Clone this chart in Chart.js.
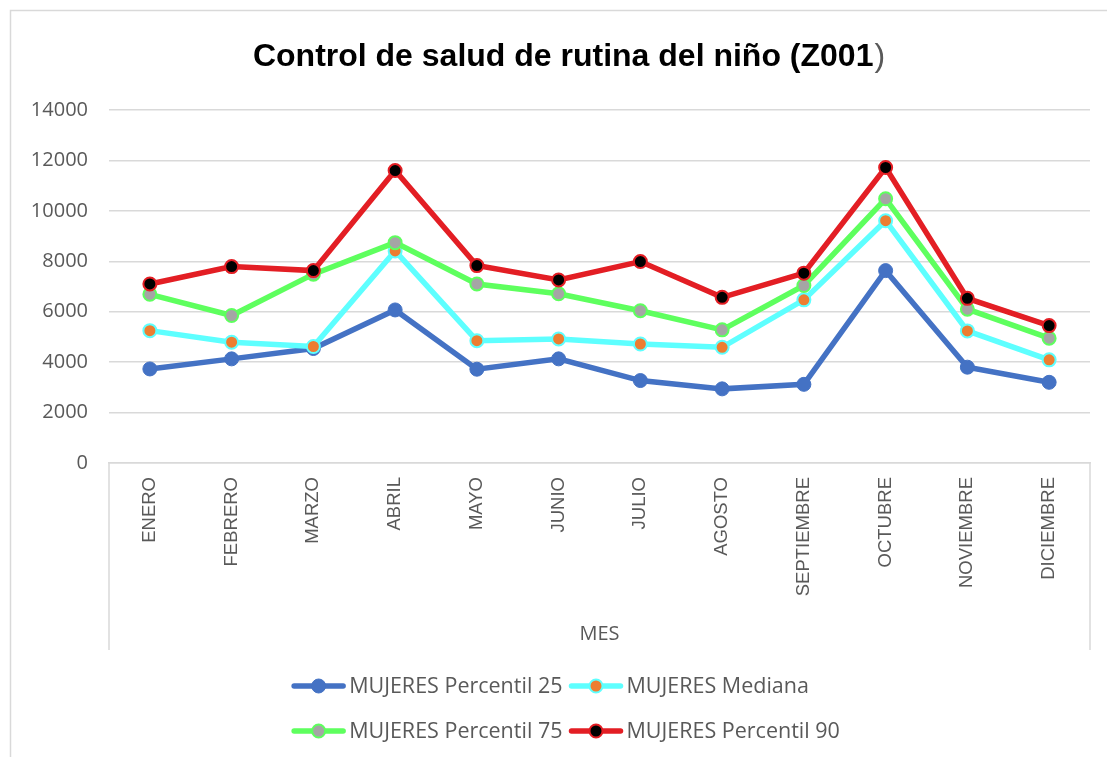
<!DOCTYPE html>
<html>
<head>
<meta charset="utf-8">
<script src="https://cdn.jsdelivr.net/npm/chart.js@4.4.1/dist/chart.umd.min.js"></script>
<style>
  html, body { margin: 0; padding: 0; background: #ffffff; }
  #wrap { width: 1107px; height: 757px; position: relative; }
</style>
</head>
<body>
<div id="wrap"><canvas id="c" width="1107" height="757"></canvas></div>
<script>
const titleMain = "Control de salud de rutina del niño (Z001";
const titleEnd = ")";
const axisTitle = "MES";
const months = ["ENERO","FEBRERO","MARZO","ABRIL","MAYO","JUNIO","JULIO","AGOSTO","SEPTIEMBRE","OCTUBRE","NOVIEMBRE","DICIEMBRE"];
const seriesNames = ["MUJERES Percentil 25","MUJERES Mediana","MUJERES Percentil 75","MUJERES Percentil 90"];
const p25     = [3730, 4130, 4540, 6070, 3720, 4130, 3270, 2940, 3120, 7630, 3800, 3200];
const mediana = [5250, 4790, 4620, 8410, 4850, 4920, 4720, 4590, 6470, 9610, 5240, 4090];
const p75     = [6690, 5850, 7490, 8740, 7100, 6710, 6040, 5280, 7040, 10480, 6100, 4950];
const p90     = [7100, 7790, 7630, 11600, 7830, 7260, 7990, 6570, 7530, 11720, 6530, 5450];
const yTicks  = [0, 2000, 4000, 6000, 8000, 10000, 12000, 14000];

const GRID = '#D9D9D9';
const TXT = '#595959';

function ds(label, data, line, fill, border, radius, bw, order) {
  return {
    label, data,
    borderColor: line, borderWidth: 5.5, tension: 0,
    pointBackgroundColor: fill, pointBorderColor: border,
    pointRadius: radius, pointBorderWidth: bw, pointHoverRadius: radius,
    order, fill: false
  };
}

const frame = {
  id: 'frame',
  beforeDraw(chart) {
    const ctx = chart.ctx;
    ctx.save();
    ctx.strokeStyle = GRID; ctx.lineWidth = 1.5;
    ctx.beginPath();
    ctx.moveTo(10.5, chart.height + 5);
    ctx.lineTo(10.5, 10.5);
    ctx.lineTo(chart.width + 5, 10.5);
    ctx.stroke();
    const a = chart.chartArea, xb = chart.scales.x.bottom;
    ctx.beginPath();
    ctx.moveTo(a.left, a.bottom); ctx.lineTo(a.left, xb);
    ctx.moveTo(a.right, a.bottom); ctx.lineTo(a.right, xb);
    ctx.stroke();
    ctx.restore();
  },
  afterDraw(chart) {
    const ctx = chart.ctx;
    ctx.save();
    // title
    const cx = chart.width / 2 + 15;
    ctx.textBaseline = 'middle';
    ctx.font = 'bold 32px "Liberation Sans", Arial, sans-serif';
    const w1 = ctx.measureText(titleMain).width;
    ctx.font = '32px "Liberation Sans", Arial, sans-serif';
    const w2 = ctx.measureText(titleEnd).width;
    let x = cx - (w1 + w2) / 2;
    ctx.font = 'bold 32px "Liberation Sans", Arial, sans-serif';
    ctx.fillStyle = '#000000'; ctx.textAlign = 'left';
    ctx.fillText(titleMain, x, 57);
    ctx.font = '32px "Liberation Sans", Arial, sans-serif';
    ctx.fillStyle = TXT;
    ctx.fillText(titleEnd, x + w1 + 1, 57);

    // legend
    const dsets = chart.data.datasets;
    ctx.font = '21.5px "Open Sans", sans-serif';
    const lineLen = 55, gap = 3, colGap = 6;
    const colW = [0, 0];
    dsets.forEach((d, i) => {
      const c = i % 2;
      colW[c] = Math.max(colW[c], lineLen + gap + ctx.measureText(d.label).width + colGap);
    });
    const total = colW[0] + colW[1];
    const start = chart.width / 2 + 15 - total / 2;
    const base = chart.scales.x.bottom;
    dsets.forEach((d, i) => {
      const c = i % 2, r = Math.floor(i / 2);
      const lx = start + (c === 0 ? 0 : colW[0]);
      const ly = base + 36 + r * 45;
      ctx.strokeStyle = d.borderColor; ctx.lineWidth = 5.5; ctx.lineCap = 'round';
      ctx.beginPath(); ctx.moveTo(lx + 3, ly); ctx.lineTo(lx + lineLen - 3, ly); ctx.stroke();
      ctx.beginPath();
      ctx.arc(lx + lineLen / 2, ly, d.pointRadius, 0, Math.PI * 2);
      ctx.fillStyle = d.pointBackgroundColor; ctx.fill();
      ctx.lineWidth = d.pointBorderWidth; ctx.strokeStyle = d.pointBorderColor; ctx.stroke();
      ctx.fillStyle = TXT; ctx.textAlign = 'left'; ctx.textBaseline = 'middle';
      ctx.fillText(d.label, lx + lineLen + gap, ly + 1);
    });
    ctx.restore();
  }
};

new Chart(document.getElementById('c'), {
  type: 'line',
  data: {
    labels: months,
    datasets: [
      ds(seriesNames[0], p25, '#4472C4', '#4472C4', '#4472C4', 7, 1, 4),
      ds(seriesNames[1], mediana, '#5EFFFF', '#ED7D31', '#5EFFFF', 6.5, 2, 3),
      ds(seriesNames[2], p75, '#5EFF5E', '#A5A5A5', '#5EFF5E', 6.5, 2, 2),
      ds(seriesNames[3], p90, '#E31E24', '#000000', '#E31E24', 6.5, 2, 1)
    ]
  },
  options: {
    responsive: false,
    animation: false,
    devicePixelRatio: 1,
    layout: { padding: { top: 110, left: 10, right: 17, bottom: 107 } },
    plugins: { legend: { display: false }, title: { display: false }, tooltip: { enabled: false } },
    scales: {
      x: {
        offset: true,
        grid: { display: false, drawTicks: false },
        border: { display: true, color: GRID, width: 1.5 },
        ticks: { color: TXT, font: { family: '"Liberation Sans", Arial, sans-serif', size: 18.5 }, minRotation: 90, maxRotation: 90, padding: 14, autoSkip: false },
        title: { display: true, text: axisTitle, color: TXT, font: { family: '"Open Sans", sans-serif', size: 20 }, padding: { top: 0, bottom: 4 } },
        afterFit(s) { s.height = 187; }
      },
      y: {
        min: 0, max: 14000,
        afterBuildTicks(s) { s.ticks = yTicks.map(v => ({ value: v })); },
        grid: { color: GRID, lineWidth: 1.5, drawTicks: false },
        border: { display: false },
        ticks: { color: TXT, font: { family: '"Open Sans", sans-serif', size: 20 }, padding: 21, callback: v => String(v) },
        afterFit(s) { s.width = 99; }
      }
    }
  },
  plugins: [frame]
});
</script>
</body>
</html>
